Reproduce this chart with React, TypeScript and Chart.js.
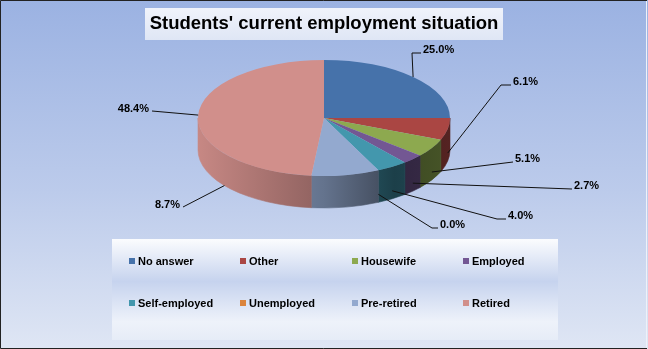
import React, { useEffect, useRef } from "react";
import Chart from "chart.js/auto";

// ---- data ----
const categories = ["No answer", "Other", "Housewife", "Employed", "Self-employed", "Unemployed", "Pre-retired", "Retired"];
const shares = [25.0, 6.1, 5.1, 2.7, 4.0, 0.0, 8.7, 48.4];
const percentLabels = ["25.0%", "6.1%", "5.1%", "2.7%", "4.0%", "0.0%", "8.7%", "48.4%"];
const sliceColors = ["#4672AA", "#AA4643", "#8DA94F", "#735793", "#4397AD", "#DB843D", "#93A9CF", "#D18F8B"];
const chartTitle = "Students' current employment situation";

// ---- layout (not data) ----
const W = 648;
const H = 349;
const PIE_CY = 118; // screen y of pie centre
const PIE_RY = 58; // vertical radius of the tilted top face
const DEPTH = 32; // thickness of the pie
// text position [x, middle y, side, elbow length]
const labelLayout: [number, number, "left" | "right", number][] = [
  [423, 50, "left", 9],
  [513, 82, "left", 10],
  [515, 159, "left", 0],
  [574, 186, "left", 0],
  [508, 216, "left", 9],
  [440, 225, "left", 6],
  [180, 205, "right", 0],
  [149, 109, "right", 0],
];
// optional anchor angle overrides (fraction of the circle, clockwise from top)
const anchorOverride: (number | null)[] = [null, null, null, null, null, null, 0.645, null];
const anchorDepth = [0.75, 0.75, 0.75, 0.75, 0.75, 0.75, 1.0, 0.75];
const legendCols = [129, 240, 352, 463];
const legendRows = [261, 303];

function shade(hex: string, f: number) {
  const n = parseInt(hex.slice(1), 16);
  const r = Math.round(((n >> 16) & 255) * f);
  const g = Math.round(((n >> 8) & 255) * f);
  const b = Math.round((n & 255) * f);
  return `rgb(${r},${g},${b})`;
}

const FONT = '"Liberation Sans", Arial, sans-serif';

const pie3d = {
  id: "pie3d",
  beforeDraw(chart: any) {
    const { ctx } = chart;
    ctx.save();
    const bg = ctx.createLinearGradient(0, 0, 0, H);
    bg.addColorStop(0, "#9bb2e2");
    bg.addColorStop(0.55, "#bccbeb");
    bg.addColorStop(1, "#dfe6f4");
    ctx.fillStyle = bg;
    ctx.fillRect(0, 0, W, H);

    // title box
    const tg = ctx.createLinearGradient(0, 8, 0, 40);
    tg.addColorStop(0, "#f0f3fb");
    tg.addColorStop(1, "#dfe6f5");
    ctx.fillStyle = tg;
    ctx.fillRect(145, 8, 358, 32);

    // legend box
    const lg = ctx.createLinearGradient(0, 239, 0, 340);
    lg.addColorStop(0, "#fbfcfe");
    lg.addColorStop(0.42, "#c6d3ee");
    lg.addColorStop(0.82, "#eef2fa");
    lg.addColorStop(1, "#e6ecf7");
    ctx.fillStyle = lg;
    ctx.fillRect(112, 239, 446, 101);

    // border
    ctx.strokeStyle = "#222";
    ctx.lineWidth = 1;
    ctx.beginPath();
    ctx.moveTo(647, 0.5);
    ctx.lineTo(0.5, 0.5);
    ctx.lineTo(0.5, 348.5);
    ctx.lineTo(647, 348.5);
    ctx.stroke();
    ctx.strokeStyle = "#eef1f8";
    ctx.beginPath();
    ctx.moveTo(646.5, 1);
    ctx.lineTo(646.5, 348);
    ctx.stroke();
    ctx.restore();
  },
  beforeDatasetsDraw(chart: any) {
    const { ctx } = chart;
    const meta = chart.getDatasetMeta(0);
    const a0 = meta.data[0];
    const cx = a0.x, cy = a0.y, r = a0.outerRadius;
    const k = PIE_RY / r;
    ctx.save();
    ctx.translate(cx, PIE_CY);
    ctx.scale(1, k);
    ctx.translate(-cx, -cy);
    const d = DEPTH / k;
    const TAU = Math.PI * 2;
    meta.data.forEach((arc: any, i: number) => {
      const s = arc.startAngle, e = arc.endAngle;
      if (e - s <= 0) return;
      const color = sliceColors[i];
      const grad = ctx.createLinearGradient(cx - r, 0, cx + r, 0);
      grad.addColorStop(0, shade(color, 0.95));
      grad.addColorStop(0.5, shade(color, 0.68));
      grad.addColorStop(0.78, shade(color, 0.42));
      grad.addColorStop(1, shade(color, 0.5));
      for (const n of [-1, 0, 1]) {
        const lo = Math.max(s, n * TAU);
        const hi = Math.min(e, n * TAU + Math.PI);
        if (hi <= lo) continue;
        ctx.beginPath();
        ctx.arc(cx, cy, r, lo, hi, false);
        ctx.lineTo(cx + r * Math.cos(hi), cy + d + r * Math.sin(hi));
        ctx.arc(cx, cy + d, r, hi, lo, true);
        ctx.closePath();
        ctx.fillStyle = grad;
        ctx.fill();
        ctx.strokeStyle = grad;
        ctx.lineWidth = 0.8;
        ctx.stroke();
      }
    });
  },
  afterDatasetsDraw(chart: any) {
    const { ctx } = chart;
    ctx.restore();
    const meta = chart.getDatasetMeta(0);
    const a0 = meta.data[0];
    const cx = a0.x, r = a0.outerRadius;
    ctx.save();
    ctx.font = `bold 11px ${FONT}`;
    ctx.textBaseline = "middle";
    ctx.fillStyle = "#000";
    ctx.strokeStyle = "#111";
    ctx.lineWidth = 1;
    meta.data.forEach((arc: any, i: number) => {
      let mid = (arc.startAngle + arc.endAngle) / 2;
      if (anchorOverride[i] != null) mid = -Math.PI / 2 + (anchorOverride[i] as number) * Math.PI * 2;
      const sn = Math.sin(mid);
      const ax = cx + r * Math.cos(mid);
      let ay = PIE_CY + PIE_RY * sn;
      if (sn > 0.05) ay += DEPTH * anchorDepth[i];
      const [tx, ty, side, elbow] = labelLayout[i];
      const text = percentLabels[i];
      ctx.beginPath();
      if (side === "left") {
        const ex = tx - 2, ey = ty + 3;
        ctx.moveTo(ax, ay);
        ctx.lineTo(ex - elbow, ey);
        ctx.lineTo(ex, ey);
        ctx.stroke();
        ctx.textAlign = "left";
        ctx.fillText(text, tx, ty);
      } else {
        const ex = tx + 3, ey = ty + 2;
        ctx.moveTo(ax, ay);
        ctx.lineTo(ex + elbow, ey);
        ctx.lineTo(ex, ey);
        ctx.stroke();
        ctx.textAlign = "right";
        ctx.fillText(text, tx, ty);
      }
    });
    ctx.restore();
  },
  afterDraw(chart: any) {
    const { ctx } = chart;
    ctx.save();
    // title
    ctx.font = `bold 18.5px ${FONT}`;
    ctx.textAlign = "center";
    ctx.textBaseline = "middle";
    ctx.fillStyle = "#000";
    ctx.fillText(chartTitle, 324, 24);
    // legend
    ctx.font = `bold 11px ${FONT}`;
    ctx.textAlign = "left";
    categories.forEach((c, i) => {
      const x = legendCols[i % 4];
      const y = legendRows[Math.floor(i / 4)];
      ctx.fillStyle = sliceColors[i];
      ctx.fillRect(x, y - 3, 6, 6);
      ctx.fillStyle = "#000";
      ctx.fillText(c, x + 9, y + 0.5);
    });
    ctx.restore();
  },
};

export default function App() {
  const ref = useRef<HTMLCanvasElement>(null);
  useEffect(() => {
    const canvas = ref.current!;
    const chart = new Chart(canvas, {
      type: "pie",
      data: {
        labels: categories,
        datasets: [
          {
            data: shares,
            backgroundColor: sliceColors,
            borderColor: sliceColors,
            borderWidth: 0,
            hoverOffset: 0,
          },
        ],
      },
      options: {
        responsive: false,
        animation: false,
        events: [],
        layout: { padding: { top: 48, bottom: 49, left: 0, right: 0 } },
        plugins: {
          legend: { display: false },
          title: { display: false },
          tooltip: { enabled: false },
        },
      },
      plugins: [pie3d],
    });
    return () => chart.destroy();
  }, []);
  return (
    <div style={{ position: "fixed", left: 0, top: 0, width: W, height: H, overflow: "hidden" }}>
      <canvas ref={ref} width={W} height={H} style={{ display: "block", width: W, height: H }} />
    </div>
  );
}
